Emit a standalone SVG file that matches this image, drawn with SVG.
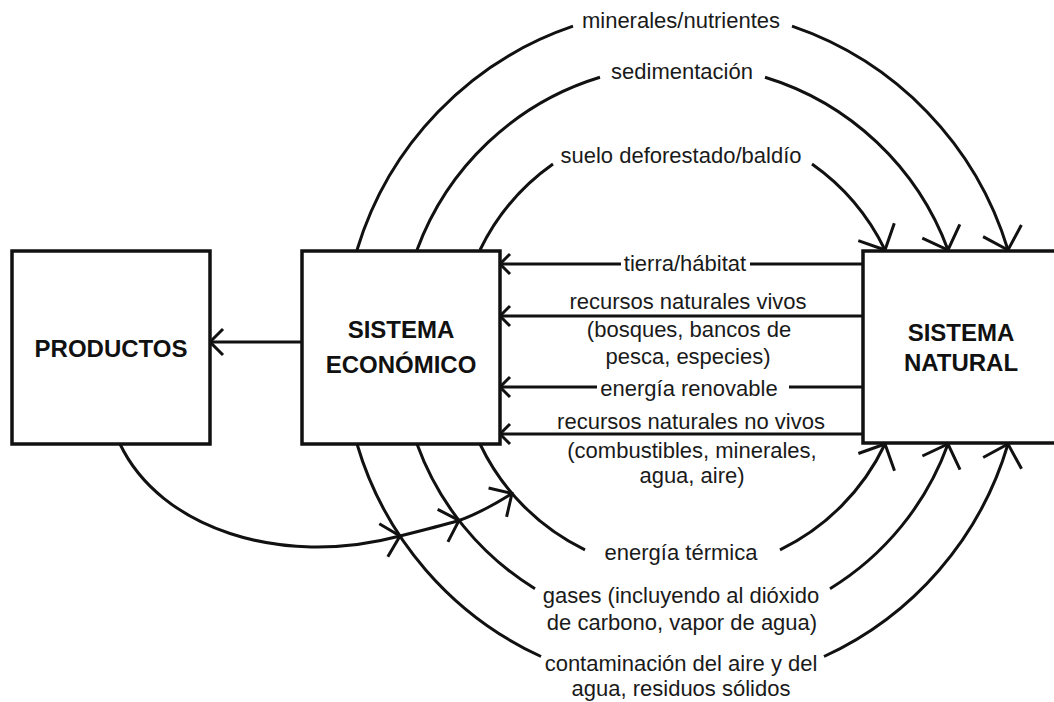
<svg xmlns="http://www.w3.org/2000/svg" width="1054" height="702" viewBox="0 0 1054 702">
  <style>
    .box { fill: #ffffff; stroke: #111111; stroke-width: 3.5; }
    .title { font-family: "Liberation Sans", Arial, sans-serif; font-size: 24px; font-weight: bold; fill: #111111; text-anchor: middle; }
    .lbl { font-family: "Liberation Sans", Arial, sans-serif; font-size: 22px; fill: #1a1a1a; text-anchor: middle; }
    .con { fill: none; stroke: #111111; stroke-width: 3; }
    .ah { fill: none; stroke: #111111; stroke-width: 3; stroke-linejoin: miter; }
  </style>
  <defs>
    <marker id="mBig" markerUnits="userSpaceOnUse" orient="auto" refX="0" refY="0" markerWidth="1" markerHeight="1" overflow="visible">
      <path class="ah" d="M-20,-20 L0,0 L-20,20"/>
    </marker>
    <marker id="mMid" markerUnits="userSpaceOnUse" orient="auto" refX="0" refY="0" markerWidth="1" markerHeight="1" overflow="visible">
      <path class="ah" d="M-17,-17 L0,0 L-17,17"/>
    </marker>
    <marker id="mProd" markerUnits="userSpaceOnUse" orient="auto" refX="0" refY="0" markerWidth="1" markerHeight="1" overflow="visible">
      <path class="ah" d="M-13,-13 L0,0 L-13,13"/>
    </marker>
    <marker id="mSmall" markerUnits="userSpaceOnUse" orient="auto" refX="0" refY="0" markerWidth="1" markerHeight="1" overflow="visible">
      <path class="ah" d="M-10,-10 L0,0 L-10,10"/>
    </marker>
  </defs>

  <rect width="1054" height="702" fill="#ffffff"/>

  <g id="connectors">
    <!-- top arcs: economic system -> natural system -->
    <path class="con" d="M357,250 A339.93,339.93 0 0 1 573,26.2"/>
    <path class="con" d="M792,26.2 A339.93,339.93 0 0 1 1008,250" marker-end="url(#mBig)"/>
    <path class="con" d="M417,250 A283.01,283.01 0 0 1 600,77.3"/>
    <path class="con" d="M765,77.3 A283.01,283.01 0 0 1 948,250" marker-end="url(#mBig)"/>
    <path class="con" d="M480,250 A224.97,224.97 0 0 1 553,164"/>
    <path class="con" d="M812,164 A224.97,224.97 0 0 1 885,250" marker-end="url(#mBig)"/>

    <!-- horizontal flows: natural system -> economic system -->
    <path class="con" d="M863,264 L750,264"/>
    <path class="con" d="M621,264 L500,264" marker-end="url(#mSmall)"/>
    <path class="con" d="M863,316 L500,316" marker-end="url(#mSmall)"/>
    <path class="con" d="M863,387 L789,387"/>
    <path class="con" d="M597,387 L500,387" marker-end="url(#mSmall)"/>
    <path class="con" d="M863,434 L500,434" marker-end="url(#mSmall)"/>

    <!-- economic system -> products -->
    <path class="con" d="M302,342 L210,342" marker-end="url(#mProd)"/>

    <!-- bottom arcs: economic system -> natural system -->
    <path class="con" d="M480,444 A224.1,224.1 0 0 0 585,549.8"/>
    <path class="con" d="M780,549.8 A224.1,224.1 0 0 0 885,444" marker-end="url(#mBig)"/>
    <path class="con" d="M417,444 A282.32,282.32 0 0 0 535,588.7"/>
    <path class="con" d="M830,588.7 A282.32,282.32 0 0 0 948,444" marker-end="url(#mBig)"/>
    <path class="con" d="M357,444 A339.36,339.36 0 0 0 541,656.5"/>
    <path class="con" d="M824,656.5 A339.36,339.36 0 0 0 1008,444" marker-end="url(#mBig)"/>

    <!-- products -> waste flows -->
    <path class="con" d="M120,444 C160,528 280,568 400,536 C420,531 440,526 459,520.5 C478,514 495,504 512,493.4" marker-mid="url(#mMid)" marker-end="url(#mMid)"/>
  </g>

  <g id="labels">
    <text class="lbl" x="681" y="28">minerales/nutrientes</text>
    <text class="lbl" x="682" y="79">sedimentación</text>
    <text class="lbl" x="681" y="163">suelo deforestado/baldío</text>
    <text class="lbl" x="685" y="271">tierra/hábitat</text>
    <text class="lbl" x="688" y="309">recursos naturales vivos</text>
    <text class="lbl" x="689" y="337">(bosques, bancos de</text>
    <text class="lbl" x="688" y="364">pesca, especies)</text>
    <text class="lbl" x="689" y="396">energía renovable</text>
    <text class="lbl" x="691" y="429">recursos naturales no vivos</text>
    <text class="lbl" x="692" y="458">(combustibles, minerales,</text>
    <text class="lbl" x="692" y="483">agua, aire)</text>
    <text class="lbl" x="681" y="560">energía térmica</text>
    <text class="lbl" x="681" y="603">gases (incluyendo al dióxido</text>
    <text class="lbl" x="682" y="630">de carbono, vapor de agua)</text>
    <text class="lbl" x="681" y="671">contaminación del aire y del</text>
    <text class="lbl" x="681" y="696">agua, residuos sólidos</text>
  </g>

  <g id="node-productos">
    <rect class="box" x="12" y="251" width="198" height="193"/>
    <text class="title" x="111" y="357">PRODUCTOS</text>
  </g>

  <g id="node-sistema-economico">
    <rect class="box" x="302" y="251" width="198" height="193"/>
    <text class="title" x="401" y="338">SISTEMA</text>
    <text class="title" x="401" y="373">ECONÓMICO</text>
  </g>

  <g id="node-sistema-natural">
    <rect class="box" x="863" y="251" width="198" height="192"/>
    <text class="title" x="961" y="341">SISTEMA</text>
    <text class="title" x="961" y="371">NATURAL</text>
  </g>
</svg>
